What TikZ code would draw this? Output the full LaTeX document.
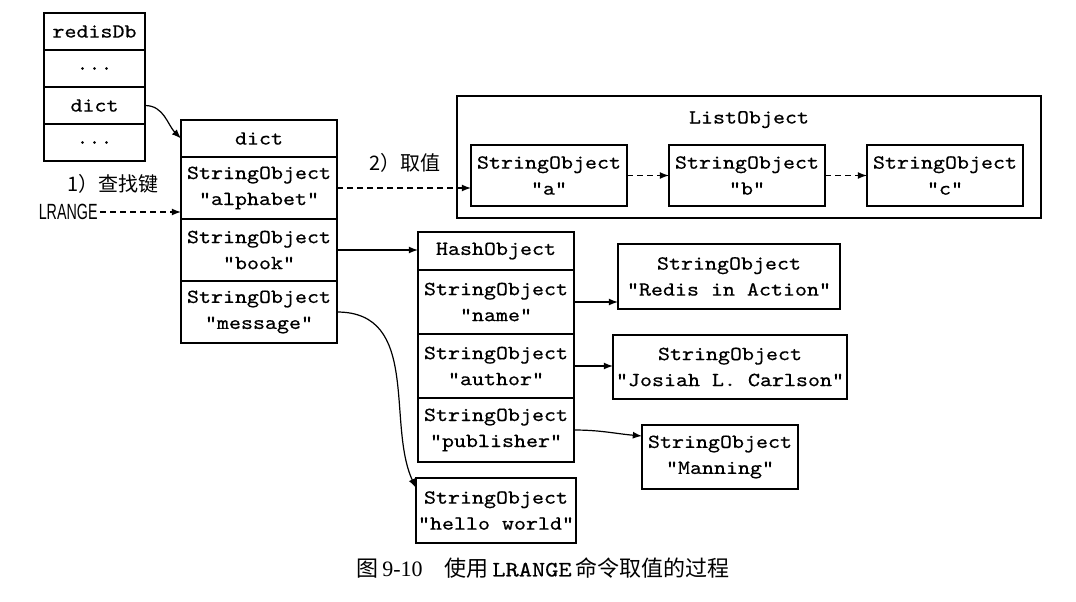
\documentclass[tikz,border=0pt]{standalone}
\usepackage{fontspec}
\setmonofont[FakeStretch=1.143,FakeBold=0.5]{Latin Modern Mono}
\newfontfamily\cjk{Noto Sans CJK SC}
\newfontfamily\narrowsans[FakeStretch=0.65]{Liberation Sans}
\newfontfamily\capserif{Liberation Serif}
\usetikzlibrary{positioning}

\begin{document}
\begin{tikzpicture}[
			x=1pt, y=1pt,
			nodes = {
				align = center,
				font=\fontsize{10}{13}\selectfont\ttfamily
			},
			cell/.style={
				draw,
				rectangle,
				line width=0.8pt,
				outer sep=0pt,
				inner sep=1pt,
				minimum width=78pt,
				minimum height=31pt
			},
			head/.style={
				cell,
				minimum height=18.5pt
			},
			dbcell/.style={
				head,
				minimum width=50.5pt
			},
			lines/.style={
				line width=0.6pt,
				->,
				>=latex
			},
			dashes/.style={
				lines,
				dash pattern=on 3pt off 2pt
			}
		]
			\useasboundingbox (0,0) rectangle (538,-300.5);

			\node[dbcell,anchor=north west] (db) at (22,-6.5) {redisDb};
			\node[dbcell] (dbdots) [below=0pt of db] {...};
			\node[dbcell] (dbdict) [below=0pt of dbdots] {dict};
			\node[dbcell] (dbmore) [below=0pt of dbdict] {...};

			\node[head,anchor=north west] (dict) at (90.5,-60) {dict};
			\node[cell] (alphabet) [below=0pt of dict] {StringObject\\"alphabet"};
			\node[cell] (book) [below=0pt of alphabet] {StringObject\\"book"};
			\node[cell] (message) [below=0pt of book] {StringObject\\"message"};

			\node[font=\cjk\fontsize{10}{12}\selectfont] (find) at (56.5,-92) {1）查找键};
			\node[font=\narrowsans\fontsize{11}{13}\selectfont,anchor=east,inner sep=1pt] (lrange) at (50,-106) {LRANGE};
			\node[font=\cjk\fontsize{10}{12}\selectfont] (fetch) at (202.5,-81.5) {2）取值};

			\node[cell,minimum width=292pt,minimum height=61pt,anchor=north west] (list) at (228.5,-48) {};
			\node (ltitle) [below=4pt of list.north] {ListObject};
			\node[cell,minimum height=30.5pt,anchor=north west] (itema) at (235.5,-72.5) {StringObject\\"a"};
			\node[cell,minimum height=30.5pt] (itemb) [right=21pt of itema] {StringObject\\"b"};
			\node[cell,minimum height=30.5pt] (itemc) [right=21pt of itemb] {StringObject\\"c"};

			\node[head,minimum height=19pt,anchor=north west] (hash) at (209,-116) {HashObject};
			\node[cell,minimum height=32pt] (name) [below=0pt of hash] {StringObject\\"name"};
			\node[cell,minimum height=32pt] (author) [below=0pt of name] {StringObject\\"author"};
			\node[cell,minimum height=32pt] (publisher) [below=0pt of author] {StringObject\\"publisher"};
			\node[cell,minimum height=32.5pt] (hello) [below=8pt of publisher] {StringObject\\"hello world"};

			\node[cell,minimum width=111pt,minimum height=32.5pt,anchor=north west] (redis) at (309,-122) {StringObject\\"Redis in Action"};
			\node[cell,minimum width=117pt,minimum height=32pt,anchor=north west] (josiah) at (306.5,-167.5) {StringObject\\"Josiah L. Carlson"};
			\node[cell,minimum height=32pt,anchor=north west] (manning) at (321,-212.5) {StringObject\\"Manning"};

			\node[font=\cjk\fontsize{11}{13}\selectfont] (caption) at (271.5,-284)
				{图\,{\capserif 9-10}\quad 使用\,{\ttfamily LRANGE}\,命令取值的过程};

			\draw[lines] (dbdict.east) to[out=0,in=135] (dict.west);
			\draw[dashes] (lrange.east) -- (lrange.east -| alphabet.west);
			\draw[dashes] (alphabet.east) -- (alphabet.east -| itema.west);
			\draw[dashes] (itema) -- (itemb);
			\draw[dashes] (itemb) -- (itemc);
			\draw[lines] (book.east) -- (book.east -| hash.west);
			\draw[lines] (message.east) .. controls +(0:42pt) and +(115:35pt) .. ([yshift=-5pt]hello.north west);
			\draw[lines] (name.east) -- (name.east -| redis.west);
			\draw[lines] (author.east) -- (author.east -| josiah.west);
			\draw[lines] (publisher.east) to[out=0,in=175] ([yshift=-5.5pt]manning.north west);
		\end{tikzpicture}
\end{document}
